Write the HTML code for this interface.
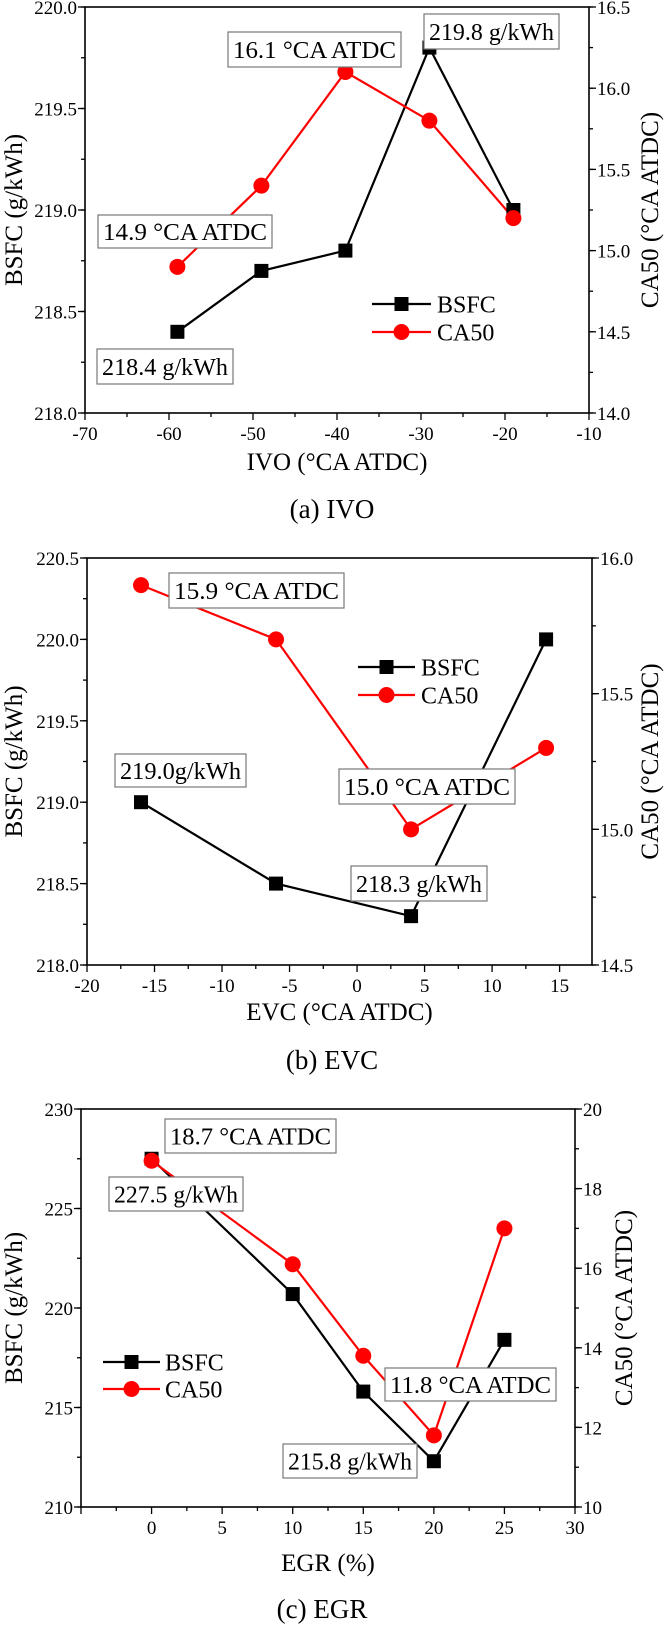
<!DOCTYPE html>
<html><head><meta charset="utf-8">
<style>
html,body{margin:0;padding:0;background:#fff;}
svg{display:block;font-family:"Liberation Serif","Times New Roman","DejaVu Serif","Noto Serif CJK SC",serif;}
svg text{font-family:"Liberation Serif","Times New Roman","DejaVu Serif","Noto Serif CJK SC",serif;}
</style></head>
<body>
<svg id="fig" width="664" height="1625" viewBox="0 0 664 1625" xmlns="http://www.w3.org/2000/svg"></svg>
<script>
// Panel (a) IVO
const ivoX = [-59, -49, -39, -29, -19];
const ivoBsfc = [218.4, 218.7, 218.8, 219.8, 219.0];
const ivoCa50 = [14.9, 15.4, 16.1, 15.8, 15.2];
const ivoXTicks = [-70, -60, -50, -40, -30, -20, -10];
const ivoLTicks = ["218.0", "218.5", "219.0", "219.5", "220.0"];
const ivoRTicks = ["14.0", "14.5", "15.0", "15.5", "16.0", "16.5"];
// Panel (b) EVC
const evcX = [-16, -6, 4, 14];
const evcBsfc = [219.0, 218.5, 218.3, 220.0];
const evcCa50 = [15.9, 15.7, 15.0, 15.3];
const evcXTicks = [-20, -15, -10, -5, 0, 5, 10, 15];
const evcLTicks = ["218.0", "218.5", "219.0", "219.5", "220.0", "220.5"];
const evcRTicks = ["14.5", "15.0", "15.5", "16.0"];
// Panel (c) EGR
const egrX = [0, 10, 15, 20, 25];
const egrBsfc = [227.5, 220.7, 215.8, 212.3, 218.4];
const egrCa50 = [18.7, 16.1, 13.8, 11.8, 17.0];
const egrXTicks = [0, 5, 10, 15, 20, 25, 30];
const egrLTicks = ["210", "215", "220", "225", "230"];
const egrRTicks = ["10", "12", "14", "16", "18", "20"];

const NS = "http://www.w3.org/2000/svg";
const FONT = "Liberation Serif, Times New Roman, DejaVu Serif, Noto Serif CJK SC, serif";
const fig = document.getElementById("fig");
function mk(tag, attrs, parent, text) {
  const e = document.createElementNS(NS, tag);
  for (const k in attrs) e.setAttribute(k, attrs[k]);
  if (tag === "text") e.setAttribute("font-family", FONT);
  if (text !== undefined) e.textContent = text;
  (parent || fig).appendChild(e);
  return e;
}

function panel(cfg) {
  const g = mk("g", {});
  
  
  const {L, R, T, B} = cfg;
  const sx = v => L + (v - cfg.xmin) / (cfg.xmax - cfg.xmin) * (R - L);
  const syL = v => B - (v - cfg.lmin) / (cfg.lmax - cfg.lmin) * (B - T);
  const syR = v => B - (v - cfg.rmin) / (cfg.rmax - cfg.rmin) * (B - T);
  const frame = mk("rect", {x: L, y: T, width: R - L, height: B - T, fill: "none", stroke: "#000", "stroke-width": 1.6}, g);
  
  
  for (let v = cfg.xmin; v <= cfg.xmax + 1e-9; v += cfg.xminor) {
    const q = (v - cfg.xTicks[0]) / cfg.xmajor;
    const major = Math.abs(q - Math.round(q)) < 1e-6;
    mk("line", {x1: sx(v), x2: sx(v), y1: B, y2: B + (major ? 7 : 4), stroke: "#000", "stroke-width": 1.3}, g);
  }
  cfg.xTicks.forEach(v => {
    const t = mk("text", {x: sx(v), y: B + 27, "font-size": 19, "text-anchor": "middle"}, g, String(v));
    
    
  });
  for (let v = cfg.lmin; v <= cfg.lmax + 1e-9; v += cfg.lminor) {
    mk("line", {x1: L, x2: L - 4, y1: syL(v), y2: syL(v), stroke: "#000", "stroke-width": 1.3}, g);
  }
  cfg.lTicks.forEach(s => {
    const v = parseFloat(s);
    mk("line", {x1: L, x2: L - 7, y1: syL(v), y2: syL(v), stroke: "#000", "stroke-width": 1.3}, g);
    const t = mk("text", {x: L - 8, y: syL(v) + 7, "font-size": 19, "text-anchor": "end"}, g, s);
    
    
  });
  for (let v = cfg.rmin; v <= cfg.rmax + 1e-9; v += cfg.rminor) {
    mk("line", {x1: R, x2: R + 4, y1: syR(v), y2: syR(v), stroke: "#000", "stroke-width": 1.3}, g);
  }
  cfg.rTicks.forEach(s => {
    const v = parseFloat(s);
    mk("line", {x1: R, x2: R + 7, y1: syR(v), y2: syR(v), stroke: "#000", "stroke-width": 1.3}, g);
    const t = mk("text", {x: R + 8, y: syR(v) + 7, "font-size": 19, "text-anchor": "start"}, g, s);
    
    
  });
  const xt = mk("text", {x: (L + R) / 2, y: cfg.xTitleY, "font-size": 25, "text-anchor": "middle"}, g, cfg.xTitle);
  
  
  const lt = mk("text", {x: 0, y: 0, "font-size": 25, "text-anchor": "middle", transform: `translate(${cfg.lTitleX},${(T + B) / 2}) rotate(-90)`}, g, "BSFC (g/kWh)");
  
  
  const rt = mk("text", {x: 0, y: 0, "font-size": 25, "text-anchor": "middle", transform: `translate(${cfg.rTitleX},${(T + B) / 2}) rotate(-90)`}, g, "CA50 (°CA ATDC)");
  
  
  const cap = mk("text", {x: cfg.capX, y: cfg.capY, "font-size": 27, "text-anchor": "middle"}, g, cfg.caption);
  
  
  const bp = cfg.x.map((v, i) => sx(v) + "," + syL(cfg.bsfc[i])).join(" ");
  const bl = mk("polyline", {points: bp, fill: "none", stroke: "#000", "stroke-width": 2.2}, g);
  
  
  const cp = cfg.x.map((v, i) => sx(v) + "," + syR(cfg.ca50[i])).join(" ");
  const cl = mk("polyline", {points: cp, fill: "none", stroke: "#f00", "stroke-width": 2.2}, g);
  
  
  cfg.x.forEach((v, i) => {
    const s = mk("rect", {x: sx(v) - 7, y: syL(cfg.bsfc[i]) - 7, width: 14, height: 14, fill: "#000"}, g);
    
    
  });
  cfg.x.forEach((v, i) => {
    const c = mk("circle", {cx: sx(v), cy: syR(cfg.ca50[i]), r: 8, fill: "#f00"}, g);
    
    
  });
  cfg.boxes.forEach(b => {
    const bg = mk("g", {}, g);
    
    
    mk("rect", {x: b[0], y: b[1], width: b[2], height: b[3], fill: "#fff", stroke: "#777", "stroke-width": 1.2}, bg);
    mk("text", {x: b[0] + b[2] / 2, y: b[1] + b[3] / 2 + 8.5, "font-size": 24, "text-anchor": "middle", textLength: b[2] - 10, lengthAdjust: "spacingAndGlyphs"}, bg, b[4]);
  });
  const lg = mk("g", {}, g);
  
  
  const [lx1, lx2, ly1, ly2, tx] = cfg.legend;
  const mx = (lx1 + lx2) / 2;
  mk("line", {x1: lx1, x2: lx2, y1: ly1, y2: ly1, stroke: "#000", "stroke-width": 2.2}, lg);
  mk("rect", {x: mx - 7, y: ly1 - 7, width: 14, height: 14, fill: "#000"}, lg);
  mk("text", {x: tx, y: ly1 + 8.5, "font-size": 24}, lg, "BSFC");
  mk("line", {x1: lx1, x2: lx2, y1: ly2, y2: ly2, stroke: "#f00", "stroke-width": 2.2}, lg);
  mk("circle", {cx: mx, cy: ly2, r: 8, fill: "#f00"}, lg);
  mk("text", {x: tx, y: ly2 + 8.5, "font-size": 24}, lg, "CA50");
}

panel({name: "panel-a-ivo", L: 85, R: 589, T: 7, B: 413,
  xmin: -70, xmax: -10, xmajor: 10, xminor: 5, xTicks: ivoXTicks,
  lmin: 218, lmax: 220, lminor: 0.25, lTicks: ivoLTicks,
  rmin: 14, rmax: 16.5, rminor: 0.25, rTicks: ivoRTicks,
  x: ivoX, bsfc: ivoBsfc, ca50: ivoCa50,
  xTitle: "IVO (°CA ATDC)", xTitleY: 470, lTitleX: 22, rTitleX: 658,
  caption: "(a) IVO", capX: 332, capY: 518,
  boxes: [[228, 32, 173, 35, "16.1 °CA ATDC"], [424, 14, 135, 35, "219.8 g/kWh"],
          [98, 215, 174, 33, "14.9 °CA ATDC"], [97, 349, 136, 35, "218.4 g/kWh"]],
  legend: [372, 431, 304, 332, 437]});

panel({name: "panel-b-evc", L: 87, R: 592, T: 558, B: 965,
  xmin: -20, xmax: 17.4, xmajor: 5, xminor: 2.5, xTicks: evcXTicks,
  lmin: 218, lmax: 220.5, lminor: 0.25, lTicks: evcLTicks,
  rmin: 14.5, rmax: 16, rminor: 0.25, rTicks: evcRTicks,
  x: evcX, bsfc: evcBsfc, ca50: evcCa50,
  xTitle: "EVC (°CA ATDC)", xTitleY: 1020, lTitleX: 22, rTitleX: 658,
  caption: "(b) EVC", capX: 332, capY: 1069,
  boxes: [[169, 573, 175, 35, "15.9 °CA ATDC"], [115, 754, 131, 33, "219.0g/kWh"],
          [339, 769, 176, 35, "15.0 °CA ATDC"], [351, 866, 136, 35, "218.3 g/kWh"]],
  legend: [358, 415, 667, 695, 421]});

panel({name: "panel-c-egr", L: 81, R: 575, T: 1109, B: 1507,
  xmin: -5, xmax: 30, xmajor: 5, xminor: 2.5, xTicks: egrXTicks,
  lmin: 210, lmax: 230, lminor: 2.5, lTicks: egrLTicks,
  rmin: 10, rmax: 20, rminor: 1, rTicks: egrRTicks,
  x: egrX, bsfc: egrBsfc, ca50: egrCa50,
  xTitle: "EGR (%)", xTitleY: 1571, lTitleX: 22, rTitleX: 632,
  caption: "(c) EGR", capX: 322, capY: 1618,
  boxes: [[165, 1119, 171, 34, "18.7 °CA ATDC"], [109, 1177, 134, 34, "227.5 g/kWh"],
          [385, 1368, 171, 33, "11.8 °CA ATDC"], [283, 1444, 134, 34, "215.8 g/kWh"]],
  legend: [103, 160, 1362, 1389, 165]});
</script>
</body></html>
